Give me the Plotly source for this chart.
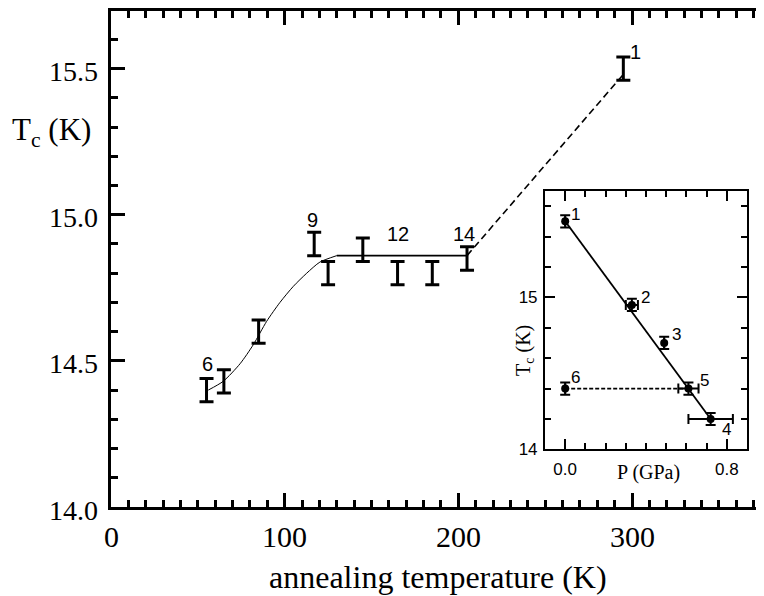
import plotly.graph_objects as go

# ---- main panel data ----
anneal_T = [55, 65, 85, 117, 125, 145, 165, 185, 205, 295]
tc_main = [14.40, 14.43, 14.60, 14.90, 14.80, 14.88, 14.80, 14.80, 14.85, 15.50]
tc_main_err = [0.04, 0.04, 0.04, 0.04, 0.04, 0.04, 0.04, 0.04, 0.04, 0.04]

fit_T = [56, 64.6, 74.3, 81.9, 89.6, 97.3, 105, 112.7, 120.3, 130]
fit_tc = [14.40, 14.43, 14.49, 14.555, 14.635, 14.70, 14.755, 14.80, 14.838, 14.86]
plateau_T = [130, 205]
plateau_tc = [14.86, 14.86]
dash_T = [205, 295]
dash_tc = [14.86, 15.48]

main_labels = [(0, "6"), (3, "9"), (6, "12"), (8, "14"), (9, "1")]
main_label_shift = {"6": (1, 26), "9": (-2, 24), "12": (0, 39), "14": (-3, 25), "1": (12, 17)}

x_ticks = [0, 100, 200, 300]
x_tick_text = ["0", "100", "200", "300"]
y_ticks = [14.0, 14.5, 15.0, 15.5]
y_tick_text = ["14.0", "14.5", "15.0", "15.5"]

# ---- inset data ----
P_gpa = [0.0, 0.33, 0.49, 0.72, 0.61, 0.0]
tc_inset = [15.50, 14.95, 14.70, 14.20, 14.40, 14.40]
tc_inset_err = [0.04, 0.04, 0.04, 0.04, 0.04, 0.04]
P_err = [0.0, 0.03, 0.0, 0.11, 0.05, 0.0]
inset_names = ["1", "2", "3", "4", "5", "6"]
inset_shift = {"1": (10, 7), "2": (14, 7), "3": (12, 8), "4": (16, -11), "5": (16, 8), "6": (10, 11)}
inset_fit_P = [0.0, 0.72]
inset_fit_tc = [15.50, 14.20]
inset_dash_P = [0.0, 0.61]
inset_dash_tc = [14.40, 14.40]
inset_x_ticks = [0.0, 0.8]
inset_y_ticks = [14, 15]

SERIF = "Liberation Serif"
SANS = "Liberation Sans"

XR = [0, 376]
YR = [14.0, 15.697]
IXR = [-0.1, 0.9]
IYR = [14.0, 15.7]

fig = go.Figure()

fig.add_trace(go.Scatter(x=fit_T, y=fit_tc, mode="lines",
                         line=dict(color="black", width=1, shape="spline", smoothing=0.7),
                         xaxis="x", yaxis="y", hoverinfo="skip"))
fig.add_trace(go.Scatter(x=plateau_T, y=plateau_tc, mode="lines", line=dict(color="black", width=1.6),
                         xaxis="x", yaxis="y"))
fig.add_trace(go.Scatter(x=dash_T, y=dash_tc, mode="lines",
                         line=dict(color="black", width=1.6, dash="7px,4px"), xaxis="x", yaxis="y"))
fig.add_trace(go.Scatter(x=anneal_T, y=tc_main, mode="markers", marker=dict(size=1, color="rgba(0,0,0,0)"),
                         error_y=dict(type="data", array=tc_main_err, visible=True, color="black",
                                      thickness=3, width=7),
                         xaxis="x", yaxis="y"))
fig.add_trace(go.Scatter(x=[None], y=[None], xaxis="x", yaxis="y2"))
fig.add_trace(go.Scatter(x=[None], y=[None], xaxis="x3", yaxis="y"))
fig.add_trace(go.Scatter(x=[None], y=[None], xaxis="x", yaxis="y4"))

fig.add_trace(go.Scatter(x=inset_fit_P, y=inset_fit_tc, mode="lines", line=dict(color="black", width=1.8),
                         xaxis="x2", yaxis="y3"))
fig.add_trace(go.Scatter(x=inset_dash_P, y=inset_dash_tc, mode="lines",
                         line=dict(color="black", width=1.8, dash="4px,2px"), xaxis="x2", yaxis="y3"))
fig.add_trace(go.Scatter(x=P_gpa, y=tc_inset, mode="markers", marker=dict(size=8, color="black"),
                         error_y=dict(type="data", array=tc_inset_err, visible=True, color="black",
                                      thickness=2, width=5),
                         error_x=dict(type="data", array=P_err, visible=True, color="black",
                                      thickness=2, width=5),
                         xaxis="x2", yaxis="y3"))
fig.add_trace(go.Scatter(x=[None], y=[None], xaxis="x4", yaxis="y3"))
fig.add_trace(go.Scatter(x=[None], y=[None], xaxis="x2", yaxis="y5"))

annotations = []
# main tick labels (serif)
for v, t in zip(x_ticks, x_tick_text):
    annotations.append(dict(x=v, y=-0.0601, xref="x", yref="paper", text=t, showarrow=False,
                            xanchor="center", yanchor="middle", font=dict(family=SERIF, size=30, color="black")))
for v, t in zip(y_ticks, y_tick_text):
    annotations.append(dict(x=-0.0168, y=v, xref="paper", yref="y", text=t, showarrow=False, yshift=-3,
                            xanchor="right", yanchor="middle", font=dict(family=SERIF, size=28, color="black")))
for idx, txt in main_labels:
    dx, dy = main_label_shift[txt]
    annotations.append(dict(x=anneal_T[idx], y=tc_main[idx], xref="x", yref="y", text=txt, showarrow=False,
                            xanchor="center", yanchor="middle",
                            xshift=dx, yshift=dy, font=dict(family=SANS, size=20, color="black")))
for i, txt in enumerate(inset_names):
    dx, dy = inset_shift[txt]
    annotations.append(dict(x=P_gpa[i], y=tc_inset[i], xref="x2", yref="y3", text=txt, showarrow=False,
                            xanchor="center", yanchor="middle",
                            xshift=dx, yshift=dy, font=dict(family=SANS, size=17, color="black")))

annotations += [
    dict(x=0.5, y=-0.1403, xref="paper", yref="paper", text="annealing temperature (K)", showarrow=False,
         xanchor="center", yanchor="middle", font=dict(family=SERIF, size=32, color="black")),
    dict(x=-0.0904, y=0.7555, xref="paper", yref="paper", text="T<sub>c</sub> (K)", showarrow=False,
         xanchor="center", yanchor="middle", font=dict(family=SERIF, size=31, color="black")),
    dict(x=0.8224, y=0.0701, xref="paper", yref="paper", text="P (GPa)", showarrow=False,
         xanchor="center", yanchor="middle", font=dict(family=SERIF, size=20, color="black")),
    dict(x=0.634, y=0.3146, xref="paper", yref="paper", text="T<sub>c</sub> (K)", showarrow=False, textangle=-90,
         xanchor="center", yanchor="middle", font=dict(family=SERIF, size=20, color="black")),
]

fig.update_layout(
    width=756, height=588,
    margin=dict(l=103, r=0, t=0, b=89),
    paper_bgcolor="white", plot_bgcolor="white",
    showlegend=False,
    annotations=annotations,
    xaxis=dict(domain=[0, 1], anchor="y", range=XR, tickvals=x_ticks, ticks="inside", ticklen=14, tickwidth=3,
               tickcolor="black", showline=True, linewidth=3, linecolor="black", mirror="ticks",
               showgrid=False, zeroline=False, showticklabels=False),
    xaxis3=dict(overlaying="x", anchor="y", range=XR, dtick=10, tick0=0, ticks="inside", ticklen=7, tickwidth=3,
                tickcolor="black", showline=False, mirror="ticks", showgrid=False, zeroline=False,
                showticklabels=False),
    yaxis=dict(domain=[0, 1], anchor="x", range=YR, tickvals=y_ticks, ticks="inside",
               ticklen=14, tickwidth=3, tickcolor="black", showline=True, linewidth=3, linecolor="black",
               showgrid=False, zeroline=False, showticklabels=False),
    yaxis4=dict(overlaying="y", anchor="x", side="left", range=YR, dtick=0.1, tick0=14, ticks="inside",
                ticklen=7, tickwidth=3, tickcolor="black", showline=False, showgrid=False, zeroline=False,
                showticklabels=False),
    yaxis2=dict(overlaying="y", anchor="x", side="right", range=YR, tickvals=y_ticks, ticks="inside",
                ticklen=7, tickwidth=3, tickcolor="black", showline=False, showgrid=False, zeroline=False,
                showticklabels=False),
    xaxis2=dict(domain=[0.6646, 0.974], anchor="y3", range=IXR, tickvals=inset_x_ticks,
                ticktext=["0.0", "0.8"], ticks="inside", ticklen=10, tickwidth=1.5, tickcolor="black",
                showline=True, linewidth=2, linecolor="black", mirror="ticks", showgrid=False, zeroline=False,
                tickfont=dict(family=SANS, size=17, color="black"), ticklabelstandoff=3),
    xaxis4=dict(overlaying="x2", anchor="y3", range=IXR, dtick=0.1, tick0=0, ticks="inside", ticklen=6,
                tickwidth=1.5, tickcolor="black", showline=False, mirror="ticks", showgrid=False,
                zeroline=False, showticklabels=False),
    yaxis3=dict(domain=[0.1162, 0.6373], anchor="x2", range=IYR, tickvals=inset_y_ticks, ticks="inside",
                ticklen=10, tickwidth=1.5, tickcolor="black", showline=True, linewidth=2, linecolor="black",
                mirror="ticks", showgrid=False, zeroline=False,
                tickfont=dict(family=SANS, size=17, color="black"), ticklabelstandoff=2),
    yaxis5=dict(overlaying="y3", anchor="x2", range=IYR, dtick=0.2, tick0=14, ticks="inside", ticklen=6,
                tickwidth=1.5, tickcolor="black", showline=False, mirror="ticks", showgrid=False,
                zeroline=False, showticklabels=False),
)

fig.write_html("out.html")
